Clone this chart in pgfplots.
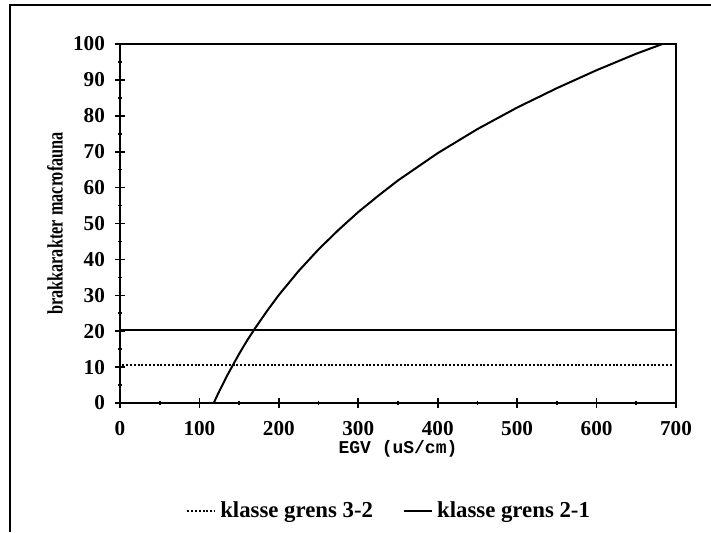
\documentclass[border=0pt]{standalone}
\usepackage{fontspec}
\setmainfont{Liberation Serif}
\newfontfamily\egvfont{Liberation Mono}
\newfontfamily\condfont[FakeStretch=0.74]{Liberation Serif}
\usepackage{pgfplots}
\pgfplotsset{compat=1.18}
\begin{document}
\begin{tikzpicture}[x=1pt,y=1pt]
\useasboundingbox (0,0) rectangle (355.5,266);
\draw[line width=1pt] (5,0) -- (5,263.5) -- (355.5,263.5);
\begin{axis}[
  at={(60pt,64.5pt)}, anchor=south west,
  scale only axis, width=278pt, height=179.5pt,
  xmin=0, xmax=700, ymin=0, ymax=100,
  xtick={0,100,...,700}, ytick={0,10,...,100},
  minor x tick num=1, minor y tick num=1,
  xtick pos=left, ytick pos=left,
  tick align=center,
  major tick length=5pt, minor tick length=2pt,
  every tick/.style={black, line width=0.8pt},
  axis line style={line width=1pt},
  /pgf/number format/assume math mode=true,
  ticklabel style={font=\bfseries\fontsize{10.6}{12}\selectfont},
  xticklabel style={yshift=-3pt},
  yticklabel style={xshift=-1.5pt},
  xlabel={EGV (uS/cm)},
  xlabel style={font=\egvfont\bfseries\fontsize{9}{11}\selectfont, at={(axis description cs:0.5,-0.128)}, anchor=center},
  ylabel={brakkarakter macrofauna},
  ylabel style={font=\condfont\bfseries\fontsize{11}{13}\selectfont, at={(axis description cs:-0.117,0.5)}, anchor=center},
  legend style={at={(0.486,-0.30)}, anchor=center, draw=none, fill=none, legend columns=2,
    font=\bfseries\fontsize{11.4}{13}\selectfont,
    /tikz/every even column/.append style={column sep=13pt}},
  legend image code/.code={\draw[#1] (0pt,0pt) -- (14pt,0pt);},
]
\addplot[black, line width=0.9pt, dash pattern=on 1pt off 0.9pt] coordinates {(3,10.5) (695,10.5)};
\addlegendentry{klasse grens 3-2}
\addplot[black, line width=1pt] coordinates {(0,20.3) (700,20.3)};
\addlegendentry{klasse grens 2-1}
\addplot[black, line width=1pt, forget plot] coordinates {
(118,0) (125,3.3) (135,7.7) (140,9.7) (150,13.7) (160,17.4) (170,20.8) (185,25.6)
(200,30.1) (225,36.8) (250,42.8) (275,48.2) (300,53.2) (325,57.7) (350,62.0)
(400,69.6) (450,76.3) (500,82.3) (550,87.7) (600,92.7) (650,97.3) (683,100)};
\end{axis}
\end{tikzpicture}
\end{document}
